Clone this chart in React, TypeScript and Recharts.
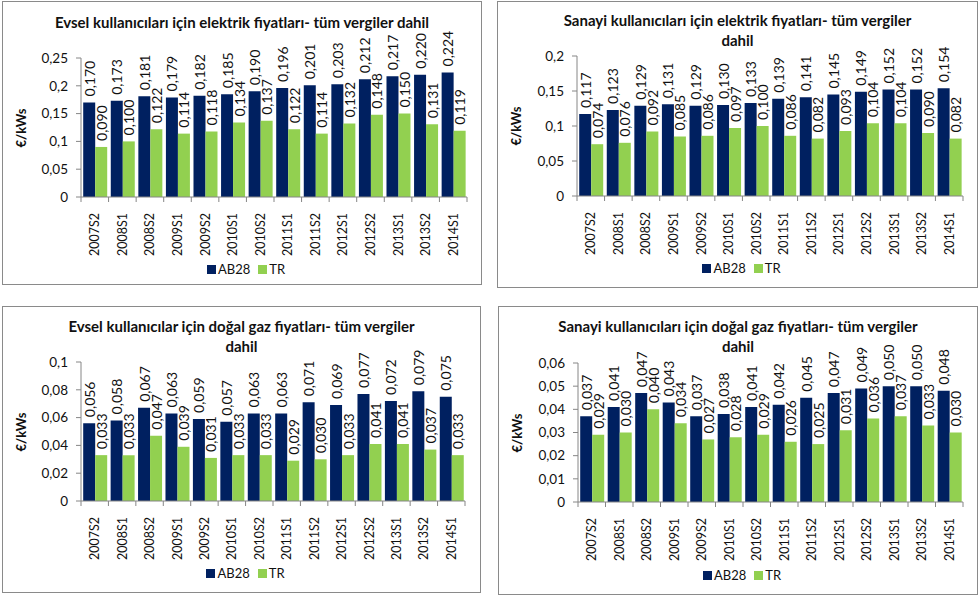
import React from 'react';
import { BarChart, Bar, XAxis, YAxis, Legend, LabelList } from 'recharts';

// ---------- DATA ----------
const categories = [
  '2007S2', '2008S1', '2008S2', '2009S1', '2009S2', '2010S1', '2010S2',
  '2011S1', '2011S2', '2012S1', '2012S2', '2013S1', '2013S2', '2014S1',
];

const elecHouseholdAB28 = [0.170, 0.173, 0.181, 0.179, 0.182, 0.185, 0.190, 0.196, 0.201, 0.203, 0.212, 0.217, 0.220, 0.224];
const elecHouseholdTR = [0.090, 0.100, 0.122, 0.114, 0.118, 0.134, 0.137, 0.122, 0.114, 0.132, 0.148, 0.150, 0.131, 0.119];

const elecIndustryAB28 = [0.117, 0.123, 0.129, 0.131, 0.129, 0.130, 0.133, 0.139, 0.141, 0.145, 0.149, 0.152, 0.152, 0.154];
const elecIndustryTR = [0.074, 0.076, 0.092, 0.085, 0.086, 0.097, 0.100, 0.086, 0.082, 0.093, 0.104, 0.104, 0.090, 0.082];

const gasHouseholdAB28 = [0.056, 0.058, 0.067, 0.063, 0.059, 0.057, 0.063, 0.063, 0.071, 0.069, 0.077, 0.072, 0.079, 0.075];
const gasHouseholdTR = [0.033, 0.033, 0.047, 0.039, 0.031, 0.033, 0.033, 0.029, 0.030, 0.033, 0.041, 0.041, 0.037, 0.033];

const gasIndustryAB28 = [0.037, 0.041, 0.047, 0.043, 0.037, 0.038, 0.041, 0.042, 0.045, 0.047, 0.049, 0.050, 0.050, 0.048];
const gasIndustryTR = [0.029, 0.030, 0.040, 0.034, 0.027, 0.028, 0.029, 0.026, 0.025, 0.031, 0.036, 0.037, 0.033, 0.030];

const ticksElecHousehold = [0, 0.05, 0.1, 0.15, 0.2, 0.25];
const ticksElecIndustry = [0, 0.05, 0.1, 0.15, 0.2];
const ticksGasHousehold = [0, 0.02, 0.04, 0.06, 0.08, 0.1];
const ticksGasIndustry = [0, 0.01, 0.02, 0.03, 0.04, 0.05, 0.06];

const titleElecHousehold = ['Evsel kullanıcıları için elektrik fiyatları- tüm vergiler dahil'];
const titleElecIndustry = ['Sanayi kullanıcıları için elektrik fiyatları- tüm vergiler', 'dahil'];
const titleGasHousehold = ['Evsel kullanıcılar için doğal gaz fiyatları- tüm vergiler', 'dahil'];
const titleGasIndustry = ['Sanayi kullanıcıları için doğal gaz fiyatları- tüm vergiler', 'dahil'];

const seriesNames = ['AB28', 'TR'];
const yAxisTitle = '€/kWs';

// ---------- STYLE ----------
const NAVY = '#002060';
const GREEN = '#92D050';
const AXIS = '#868686';
const BORDER = '#8a8a8a';
const TEXT = '#111';
const FONT = 'Lato, "Open Sans", sans-serif';
const X_TICK_SIZE = 5;
const X_TICK_MARGIN = 11;

const fmt = (v: number) => String(v).replace('.', ',');
const fmt3 = (v: number) => v.toFixed(3).replace('.', ',');

const ValueLabel = (props: any) => {
  const { x, y, width, value } = props;
  const cx = x + width / 2;
  const ty = y - 6;
  return (
    <text
      x={cx}
      y={ty}
      transform={`rotate(-90, ${cx}, ${ty})`}
      textAnchor="start"
      dominantBaseline="central"
      fontSize={14}
      fontFamily={FONT}
      fill={TEXT}
    >
      {fmt3(value)}
    </text>
  );
};

const CategoryTick = (props: any) => {
  const { x, y, payload, index, visibleTicksCount } = props;
  const half = payload && typeof payload.offset === 'number' ? payload.offset : 13.8;
  const axisY = y - X_TICK_SIZE - X_TICK_MARGIN;
  return (
    <g>
      <line x1={x - half} x2={x - half} y1={axisY} y2={axisY + 5} stroke={AXIS} />
      {index === visibleTicksCount - 1 && (
        <line x1={x + half} x2={x + half} y1={axisY} y2={axisY + 5} stroke={AXIS} />
      )}
      <text
        x={x}
        y={y}
        transform={`rotate(-90, ${x}, ${y})`}
        textAnchor="end"
        dominantBaseline="central"
        fontSize={12.5}
        fontFamily={FONT}
        fill={TEXT}
      >
        {payload.value}
      </text>
    </g>
  );
};

const LegendContent = () => (
  <div
    style={{
      display: 'flex',
      justifyContent: 'center',
      alignItems: 'center',
      fontFamily: FONT,
      fontSize: 13,
      color: TEXT,
      lineHeight: '14px',
      paddingLeft: 8,
    }}
  >
    <span style={{ width: 9, height: 9, background: NAVY, display: 'inline-block', marginRight: 2 }} />
    <span style={{ marginRight: 8 }}>{seriesNames[0]}</span>
    <span style={{ width: 9, height: 9, background: GREEN, display: 'inline-block', marginRight: 2 }} />
    <span>{seriesNames[1]}</span>
  </div>
);

type PanelProps = {
  left: number;
  top: number;
  width: number;
  height: number;
  title: string[];
  titleTop: number;
  ab: number[];
  tr: number[];
  ticks: number[];
  margin: { top: number; right: number; bottom: number; left: number };
  legendTop: number;
  yLabelX: number;
};

const Panel = (p: PanelProps) => {
  const data = categories.map((c, i) => ({ period: c, AB28: p.ab[i], TR: p.tr[i] }));
  const plotCenterY = p.margin.top + (p.height - p.margin.top - p.margin.bottom) / 2;
  return (
    <div style={{ position: 'absolute', left: p.left, top: p.top, width: p.width, height: p.height }}>
      <div
        style={{
          position: 'absolute',
          left: 0,
          top: 0,
          width: p.width,
          height: p.height,
          boxSizing: 'border-box',
          border: `1px solid ${BORDER}`,
        }}
      />
      <div
        style={{
          position: 'absolute',
          left: 0,
          top: p.titleTop,
          width: p.width,
          textAlign: 'center',
          fontFamily: FONT,
          fontWeight: 700,
          fontSize: 15,
          lineHeight: '20px',
          color: TEXT,
        }}
      >
        {p.title.map((t, i) => (
          <div key={i}>{t}</div>
        ))}
      </div>
      <div
        style={{
          position: 'absolute',
          left: p.yLabelX,
          top: plotCenterY,
          transform: 'translate(-50%, -50%) rotate(-90deg)',
          whiteSpace: 'nowrap',
          fontFamily: FONT,
          fontWeight: 700,
          fontSize: 13,
          color: TEXT,
        }}
      >
        {yAxisTitle}
      </div>
      <div style={{ position: 'absolute', left: 0, top: 0 }}>
        <BarChart
          width={p.width}
          height={p.height}
          data={data}
          margin={{ top: p.margin.top, right: p.margin.right, bottom: 0, left: 0 }}
          barCategoryGap="8%"
          barGap={0}
        >
          <XAxis
            dataKey="period"
            interval={0}
            height={p.margin.bottom}
            tickLine={false}
            tickSize={X_TICK_SIZE}
            tickMargin={X_TICK_MARGIN}
            axisLine={{ stroke: AXIS }}
            tick={<CategoryTick />}
          />
          <YAxis
            type="number"
            width={p.margin.left}
            domain={[0, p.ticks[p.ticks.length - 1]]}
            ticks={p.ticks}
            interval={0}
            tickFormatter={fmt}
            tickSize={5}
            tickMargin={8}
            tickLine={{ stroke: AXIS }}
            axisLine={{ stroke: AXIS }}
            tick={{ fontSize: 13.5, fontFamily: FONT, fill: TEXT }}
          />
          <Legend
            verticalAlign="middle"
            align="center"
            layout="horizontal"
            content={<LegendContent />}
            wrapperStyle={{ left: 0, top: p.legendTop, width: p.width }}
          />
          <Bar dataKey="AB28" name={seriesNames[0]} fill={NAVY} isAnimationActive={false}>
            <LabelList dataKey="AB28" content={<ValueLabel />} />
          </Bar>
          <Bar dataKey="TR" name={seriesNames[1]} fill={GREEN} isAnimationActive={false}>
            <LabelList dataKey="TR" content={<ValueLabel />} />
          </Bar>
        </BarChart>
      </div>
    </div>
  );
}

export default function App() {
  return (
    <div style={{ position: 'absolute', left: 0, top: 0, width: 979, height: 595, background: '#fff', overflow: 'hidden' }}>
      <Panel
        left={2}
        top={1}
        width={480}
        height={284}
        title={titleElecHousehold}
        titleTop={11}
        ab={elecHouseholdAB28}
        tr={elecHouseholdTR}
        ticks={ticksElecHousehold}
        margin={{ top: 57, right: 15, bottom: 88, left: 79 }}
        legendTop={261}
        yLabelX={19}
      />
      <Panel
        left={497}
        top={1}
        width={481}
        height={287}
        title={titleElecIndustry}
        titleTop={9}
        ab={elecIndustryAB28}
        tr={elecIndustryTR}
        ticks={ticksElecIndustry}
        margin={{ top: 55, right: 15, bottom: 92, left: 80 }}
        legendTop={260}
        yLabelX={19}
      />
      <Panel
        left={2}
        top={306}
        width={479}
        height={287}
        title={titleGasHousehold}
        titleTop={10}
        ab={gasHouseholdAB28}
        tr={gasHouseholdTR}
        ticks={ticksGasHousehold}
        margin={{ top: 56, right: 16, bottom: 92, left: 79 }}
        legendTop={260}
        yLabelX={19}
      />
      <Panel
        left={498}
        top={306}
        width={480}
        height={289}
        title={titleGasIndustry}
        titleTop={10}
        ab={gasIndustryAB28}
        tr={gasIndustryTR}
        ticks={ticksGasIndustry}
        margin={{ top: 57, right: 15, bottom: 93, left: 80 }}
        legendTop={262}
        yLabelX={19}
      />
    </div>
  );
}
